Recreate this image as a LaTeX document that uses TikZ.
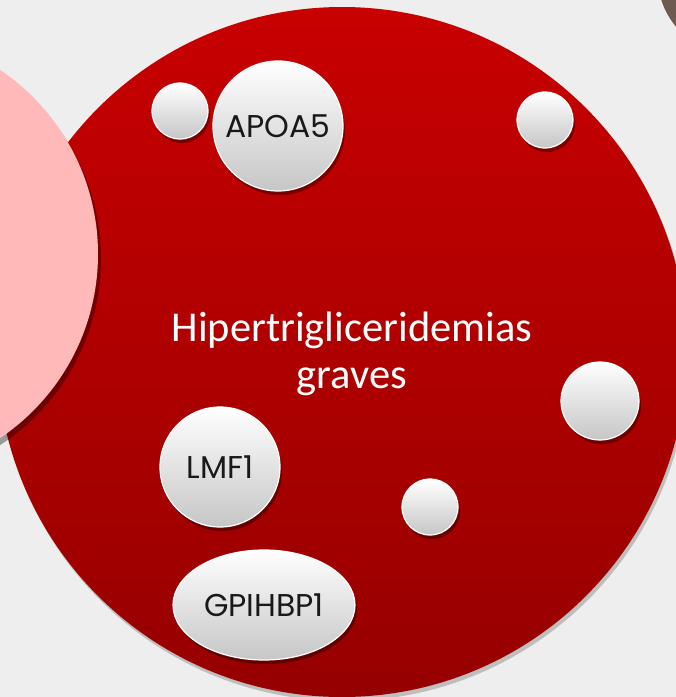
\documentclass[tikz,border=0pt]{standalone}
\usepackage{fontspec}
\setmainfont{Carlito}
\newfontfamily\geo{Poppins}
\usetikzlibrary{shadows,shapes.geometric}
\definecolor{bg}{HTML}{EEEEEE}
\definecolor{redtop}{HTML}{C80000}
\definecolor{redbot}{HTML}{960000}
\definecolor{pinkc}{HTML}{FFB9B9}
\definecolor{brownc}{HTML}{6E5A50}
\definecolor{bubgray}{HTML}{C6C6C6}
\tikzset{
  bubble/.style={circle, draw=white, line width=1.2pt, top color=white, bottom color=bubgray,
    inner sep=0pt, font=\geo\fontsize{31.5}{34}\selectfont, text=black!90,
    drop shadow={shadow xshift=2pt, shadow yshift=-4pt, opacity=0.35, fill=black}},
  bigdisc/.style={circle, inner sep=0pt},
  title/.style={text=white, align=center, font=\fontsize{42.5}{47}\selectfont}
}
\begin{document}
\begin{tikzpicture}[x=1pt,y=-1pt]
\useasboundingbox (0,0) rectangle (676,697);
\clip (0,0) rectangle (676,697);
\fill[bg] (0,0) rectangle (676,697);
% dark circle top right
\node[bigdisc, fill=brownc, minimum size=148pt,
  drop shadow={shadow xshift=2pt, shadow yshift=-3pt, opacity=0.3, fill=black}] (brown) at (732,-22) {};
% main red circle
\node[bigdisc, top color=redtop, bottom color=redbot, minimum size=690pt,
  drop shadow={shadow xshift=2pt, shadow yshift=-4pt, opacity=0.2, fill=black}] (main) at (342,352) {};
% pink circle on the left
\node[bigdisc, fill=pinkc, minimum size=444pt,
  drop shadow={shadow xshift=3pt, shadow yshift=-5pt, opacity=0.35, fill=black}] (pink) at (-124,254) {};
% central text
\node[title] (t) at (352,354) {Hipertrigliceridemias\\graves};
% bubbles
\node[bubble, minimum size=56pt] (b1) at (180,111) {};
\node[bubble, minimum size=130pt] (apoa) at (278,126) {APOA5};
\node[bubble, minimum size=56pt] (b2) at (545,120) {};
\node[bubble, minimum size=78pt] (b3) at (600,401) {};
\node[bubble, minimum size=120pt] (lmf) at (220,467) {LMF1};
\node[bubble, minimum size=56pt] (b4) at (430,507) {};
\node[bubble, ellipse, minimum width=182pt, minimum height=110pt] (gp) at (264,605) {GPIHBP1};
\end{tikzpicture}
\end{document}
